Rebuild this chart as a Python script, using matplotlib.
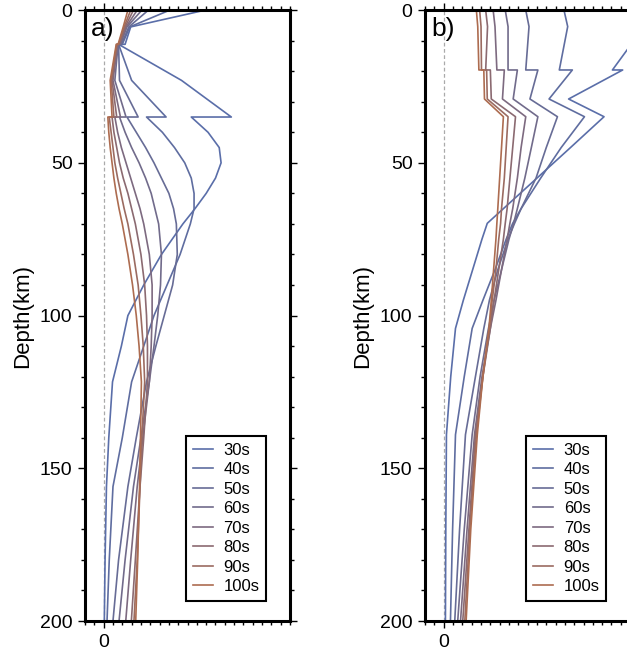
import matplotlib
matplotlib.use('Agg')
import matplotlib.pyplot as plt
from matplotlib.ticker import MultipleLocator, FixedLocator

plt.rcParams['font.family'] = ['Liberation Sans', 'DejaVu Sans']

periods = ['30s', '40s', '50s', '60s', '70s', '80s', '90s', '100s']

# panel a) depth nodes (km), repeated depth = discontinuity
depth_a = [0, 5.5, 11.2, 11.2, 23, 35, 35, 40, 45, 50, 55, 60, 65, 70, 80, 90,
           100, 110, 121.7, 140, 156, 180, 200]
k30_a = [10.9, 2.9, 2.3, 1.6, 8.35, 13.7, 9.4, 11.2, 12.4, 12.6, 12.0, 11.0, 9.8, 8.5,
         6.2, 4.3, 2.6, 1.9, 0.95, 0.55, 0.3, 0.15, 0.07]
k40_a = [7.1, 2.8, 2.0, 1.6, 3.0, 6.7, 4.6, 6.3, 7.6, 8.7, 9.4, 9.7, 9.7, 9.3,
         8.2, 6.8, 5.4, 4.3, 3.0, 2.0, 1.0, 0.6, 0.36]
k50_a = [4.8, 2.7, 1.9, 1.6, 1.7, 3.7, 2.5, 3.5, 4.5, 5.4, 6.2, 7.0, 7.5, 7.8,
         7.9, 7.4, 6.5, 5.6, 4.6, 3.5, 2.6, 1.6, 1.0]
k60_a = [4.1, 2.5, 1.8, 1.55, 1.2, 2.4, 1.7, 2.3, 3.0, 3.8, 4.5, 5.1, 5.5, 5.9,
         6.2, 6.1, 5.8, 5.4, 4.9, 4.0, 3.2, 2.3, 1.65]
k70_a = [3.6, 2.4, 1.7, 1.5, 1.0, 1.8, 1.2, 1.5, 1.9, 2.4, 2.9, 3.4, 3.9, 4.3,
         4.9, 5.2, 5.2, 5.1, 4.9, 4.2, 3.6, 2.9, 2.37]
k80_a = [3.2, 2.3, 1.65, 1.45, 0.9, 1.4, 0.9, 1.1, 1.4, 1.7, 2.1, 2.6, 3.0, 3.4,
         4.0, 4.4, 4.6, 4.7, 4.7, 4.3, 3.9, 3.4, 2.97]
k90_a = [2.9, 2.2, 1.6, 1.4, 0.8, 1.1, 0.6, 0.8, 1.0, 1.2, 1.5, 1.85, 2.2, 2.6,
         3.2, 3.7, 4.0, 4.25, 4.4, 4.1, 3.9, 3.6, 3.25]
k100_a = [2.6, 2.1, 1.55, 1.35, 0.7, 0.9, 0.45, 0.55, 0.7, 0.9, 1.1, 1.35, 1.65, 2.0,
          2.6, 3.1, 3.5, 3.8, 4.05, 3.95, 3.85, 3.65, 3.44]

# panel b)
depth_b = [0, 5.4, 19.6, 19.6, 29.1, 34.9, 45, 55, 65, 69.8, 75, 85, 95, 104.2,
           120, 139, 170, 200]
k30_b = [21.0, 21.5, 18.1, 19.2, 13.4, 17.2, 13.6, 10.0, 6.4, 4.67, 4.1, 3.1, 2.1,
         1.26, 0.75, 0.29, 0.22, 0.18]
k40_b = [12.9, 13.3, 12.4, 13.8, 11.3, 15.1, 12.6, 10.4, 8.3, 7.4, 6.7, 5.5, 4.2,
         3.05, 2.2, 1.26, 0.95, 0.72]
k50_b = [8.8, 9.15, 8.8, 10.1, 9.25, 12.2, 11.0, 9.9, 8.3, 7.6, 6.9, 5.8, 4.9,
         4.3, 3.4, 2.33, 1.7, 1.18]
k60_b = [6.6, 6.9, 6.9, 7.9, 7.45, 10.1, 9.4, 8.7, 7.9, 7.5, 7.0, 6.2, 5.4,
         4.8, 3.9, 3.05, 2.2, 1.5]
k70_b = [5.3, 5.5, 5.7, 6.5, 6.3, 8.8, 8.3, 7.9, 7.4, 7.1, 6.8, 6.2, 5.6,
         5.0, 4.1, 3.3, 2.5, 1.8]
k80_b = [4.5, 4.7, 4.5, 5.0, 5.1, 7.7, 7.4, 7.1, 6.8, 6.6, 6.4, 5.9, 5.4,
         5.0, 4.2, 3.4, 2.7, 2.04]
k90_b = [3.85, 4.0, 4.05, 4.6, 4.67, 6.9, 6.7, 6.5, 6.2, 6.1, 5.9, 5.6, 5.2,
         4.9, 4.2, 3.5, 2.8, 2.26]
k100_b = [3.5, 3.65, 3.77, 4.3, 4.37, 6.4, 6.2, 6.0, 5.8, 5.7, 5.6, 5.35, 5.1,
          4.85, 4.2, 3.6, 2.9, 2.4]

colors = ['#5a6ea9', '#5f6da0', '#676c96', '#716b8b', '#7d6a80', '#8b6a71',
          '#9b6b61', '#ad6c50']


def draw_panel(ax, depth, curves, tag):
    ax.axvline(0, color='#aaaaaa', lw=0.9, ls=(0, (3, 2)), zorder=1)
    for vals, name, c in zip(curves, periods, colors):
        ax.plot(vals, depth, color=c, lw=1.2, label=name, zorder=2)

    ax.set_xlim(-2, 20)
    ax.set_ylim(200, 0)
    ax.xaxis.set_major_locator(FixedLocator([0]))
    ax.xaxis.set_minor_locator(MultipleLocator(1))
    ax.yaxis.set_major_locator(MultipleLocator(50))
    ax.yaxis.set_minor_locator(MultipleLocator(10))
    ax.tick_params(which='both', direction='out', top=True, right=True,
                   width=1.0, labelsize=14)
    ax.tick_params(which='major', length=5, pad=4)
    ax.tick_params(which='minor', length=3)
    ax.tick_params(axis='x', which='major', pad=4)
    for s in ax.spines.values():
        s.set_linewidth(2.2)
    ax.set_ylabel('Depth(km)', fontsize=16, labelpad=5)
    ax.text(0.03, 0.988, tag, transform=ax.transAxes, fontsize=19,
            va='top', ha='left')

    leg = ax.legend(loc='lower left', bbox_to_anchor=(0.493, 0.033), fontsize=12,
                    frameon=True, fancybox=False, framealpha=1, edgecolor='black',
                    handlelength=1.2, handletextpad=0.65, labelspacing=0.27,
                    borderpad=0.4, borderaxespad=0)
    leg.get_frame().set_linewidth(1.5)


fig = plt.figure(figsize=(6.27, 6.52), dpi=100)
ax1 = fig.add_axes([0.1356, 0.0475, 0.327, 0.937])
ax2 = fig.add_axes([0.678, 0.0475, 0.327, 0.937])

draw_panel(ax1, depth_a, [k30_a, k40_a, k50_a, k60_a, k70_a, k80_a, k90_a, k100_a], 'a)')
draw_panel(ax2, depth_b, [k30_b, k40_b, k50_b, k60_b, k70_b, k80_b, k90_b, k100_b], 'b)')

fig.savefig('out.png', dpi=100)
